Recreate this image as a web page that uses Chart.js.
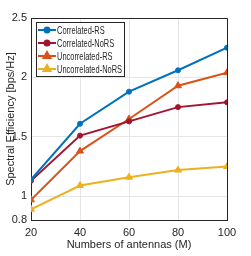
<!DOCTYPE html>
<html>
<head>
<meta charset="utf-8">
<script src="https://cdn.jsdelivr.net/npm/chart.js@4"></script>
<style>
  html, body { margin: 0; padding: 0; background: #fff; }
  #wrap { width: 251px; height: 256px; }
</style>
</head>
<body>
<div id="wrap"><canvas id="chart" width="251" height="256"></canvas></div>
<script>
// data
const antennas = [20, 40, 60, 80, 100];
const seriesNames = ["Correlated-RS", "Correlated-NoRS", "Uncorrelated-RS", "Uncorrelated-NoRS"];
const corrRS = [1.14, 1.61, 1.88, 2.06, 2.25];
const corrNoRS = [1.13, 1.51, 1.63, 1.75, 1.79];
const uncorrRS = [0.97, 1.38, 1.65, 1.93, 2.04];
const uncorrNoRS = [0.89, 1.09, 1.16, 1.22, 1.25];
const yTicks = [0.8, 1, 1.5, 2, 2.5];
const xTicks = [20, 40, 60, 80, 100];

const colors = ["#0072BD", "#A2142F", "#D95319", "#EDB120"];
const shapes = ["circle", "circle", "triangle", "triangle"];
const radii = [2.5, 2.5, 4, 4];
const allValues = [corrRS, corrNoRS, uncorrRS, uncorrNoRS];

const FONT = "'Liberation Sans', Arial, sans-serif";

const datasets = allValues.map((vals, i) => ({
    label: seriesNames[i],
    data: vals.map((v, j) => ({ x: antennas[j], y: v })),
    borderColor: colors[i],
    backgroundColor: colors[i],
    borderWidth: 2,
    pointStyle: shapes[i],
    pointRadius: radii[i],
    pointBorderWidth: 1,
    fill: false,
    tension: 0
}));

// box on the top and right, plus a legend inside the plot
const boxAndLegend = {
    id: "boxAndLegend",
    afterDraw(chart) {
        const ctx = chart.ctx;
        const a = chart.chartArea;
        ctx.save();
        ctx.strokeStyle = "#262626";
        ctx.lineWidth = 1;
        ctx.beginPath();
        ctx.moveTo(a.left, a.top + 0.5);
        ctx.lineTo(a.right + 0.5, a.top + 0.5);
        ctx.lineTo(a.right + 0.5, a.bottom);
        ctx.stroke();

        // legend
        const lx = 36, ly = 22, lw = 88, lh = 54;
        ctx.fillStyle = "#fff";
        ctx.fillRect(lx, ly, lw, lh);
        ctx.strokeRect(lx + 0.5, ly + 0.5, lw, lh);
        ctx.font = "11px " + FONT;
        ctx.textBaseline = "middle";
        // squeeze all names by the same factor so the longest fits
        const squeeze = Math.min(1, 65 / ctx.measureText(seriesNames[3]).width);
        seriesNames.forEach((name, i) => {
            const y = ly + 8 + i * 13;
            ctx.strokeStyle = colors[i];
            ctx.lineWidth = 2;
            ctx.beginPath();
            ctx.moveTo(lx + 2, y);
            ctx.lineTo(lx + 20, y);
            ctx.stroke();
            Chart.helpers.drawPoint(ctx, {
                pointStyle: shapes[i], radius: radii[i], rotation: 0, borderWidth: 1
            }, lx + 11, y);
            ctx.fillStyle = colors[i];
            ctx.fill();
            ctx.fillStyle = "#262626";
            ctx.fillText(name, lx + 21, y + 0.5, ctx.measureText(name).width * squeeze);
        });
        ctx.restore();
    }
};

new Chart(document.getElementById("chart"), {
    type: "line",
    data: { datasets },
    options: {
        responsive: false,
        animation: false,
        layout: { padding: { top: 18, right: 24, left: 0, bottom: 0 } },
        plugins: { legend: { display: false }, tooltip: { enabled: false } },
        scales: {
            x: {
                type: "linear",
                min: 20, max: 100,
                afterBuildTicks: s => { s.ticks = xTicks.map(v => ({ value: v })); },
                afterFit: s => { s.height = 36; },
                grid: { color: "#e6e6e6", drawTicks: false },
                border: { color: "#262626" },
                ticks: { color: "#262626", font: { size: 11, family: FONT }, padding: 6 },
                title: { display: true, text: "Numbers of antennas (M)", color: "#262626",
                         font: { size: 11, family: FONT }, padding: { top: 1 } }
            },
            y: {
                min: 0.8, max: 2.5,
                afterBuildTicks: s => { s.ticks = yTicks.map(v => ({ value: v })); },
                afterFit: s => { s.width = 31; },
                grid: { color: "#e6e6e6", drawTicks: false },
                border: { color: "#262626" },
                ticks: { color: "#262626", font: { size: 11, family: FONT }, padding: 4,
                         callback: v => String(v) },
                title: { display: true, text: "Spectral Efficiency [bps/Hz]", color: "#262626",
                         font: { size: 11, family: FONT }, padding: { bottom: 0 } }
            }
        }
    },
    plugins: [boxAndLegend]
});
</script>
</body>
</html>
